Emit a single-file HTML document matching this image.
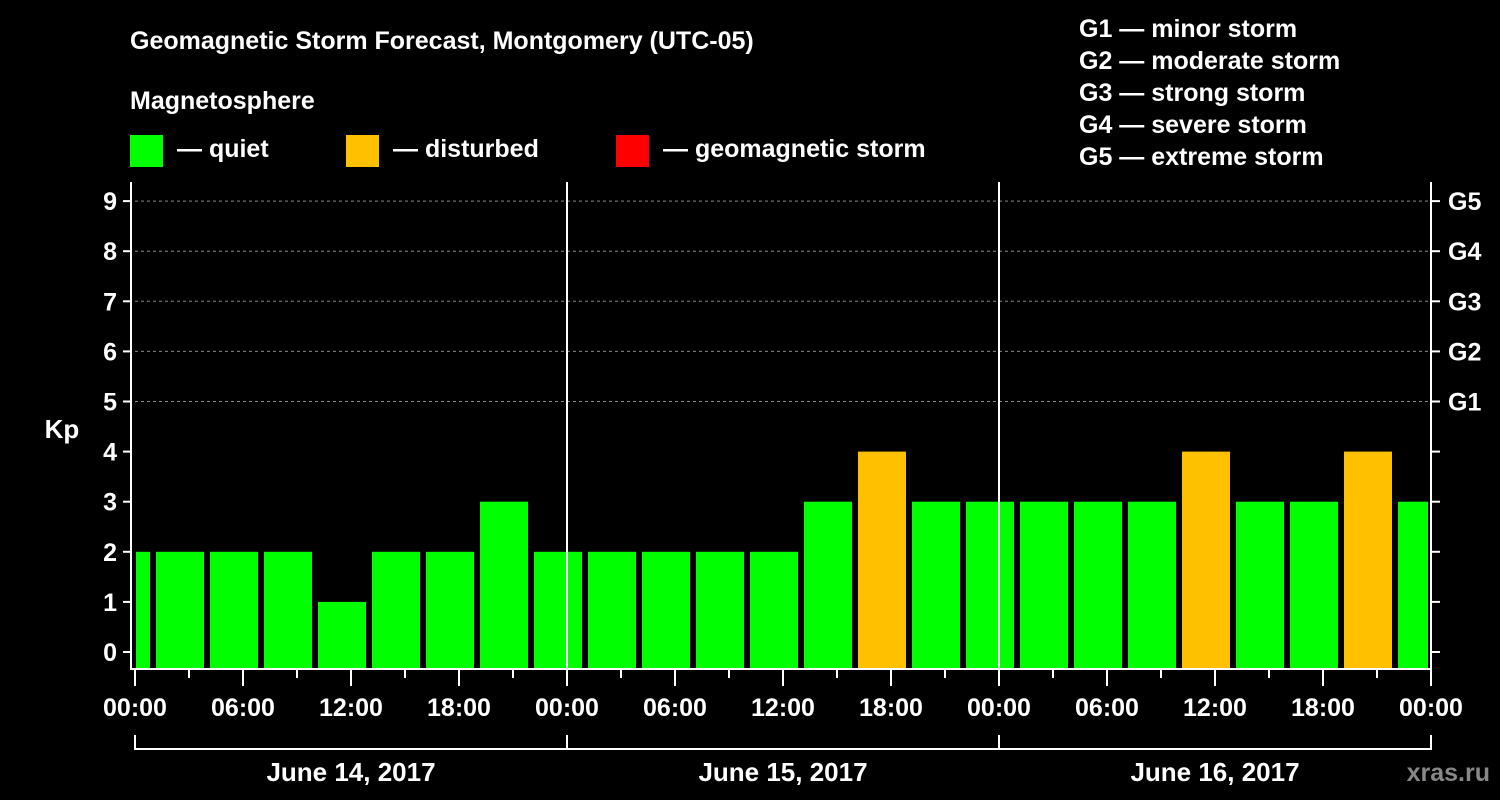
<!DOCTYPE html>
<html><head><meta charset="utf-8"><style>
body{margin:0;background:#000;width:1500px;height:800px;overflow:hidden}
svg{display:block;font-family:"Liberation Sans",Arial,sans-serif;font-weight:bold}
</style></head><body>
<svg id="c" width="1500" height="800">
<text x="130" y="49" fill="#fff" font-size="25">Geomagnetic Storm Forecast, Montgomery (UTC-05)</text>
<text x="130" y="109" fill="#fff" font-size="25">Magnetosphere</text>
<rect x="130" y="135" width="33" height="32" fill="#00ff00"/>
<text x="177" y="157" fill="#fff" font-size="25">— quiet</text>
<rect x="346" y="135" width="33" height="32" fill="#ffc000"/>
<text x="393" y="157" fill="#fff" font-size="25">— disturbed</text>
<rect x="616" y="135" width="33" height="32" fill="#ff0000"/>
<text x="663" y="157" fill="#fff" font-size="25">— geomagnetic storm</text>
<g fill="#fff" font-size="25">
<text x="1079" y="37">G1 — minor storm</text>
<text x="1079" y="69">G2 — moderate storm</text>
<text x="1079" y="101">G3 — strong storm</text>
<text x="1079" y="133">G4 — severe storm</text>
<text x="1079" y="165">G5 — extreme storm</text>
</g>
<text x="62" y="438" fill="#fff" font-size="26" text-anchor="middle">Kp</text>
<text x="1490" y="781" fill="#888" font-size="25" text-anchor="end">xras.ru</text>
<g id="plot"></g>
</svg>
<script>
const binStartHours=[-2,1,4,7,10,13,16,19,22,25,28,31,34,37,40,43,46,49,52,55,58,61,64,67,70];
const kpValues=[2,2,2,2,1,2,2,3,2,2,2,2,2,3,4,3,3,3,3,3,4,3,3,4,3];
const yTicks=[0,1,2,3,4,5,6,7,8,9];
const gLabels=["G1","G2","G3","G4","G5"];
const xTickLabels=["00:00","06:00","12:00","18:00","00:00","06:00","12:00","18:00","00:00","06:00","12:00","18:00","00:00"];
const dayLabels=["June 14, 2017","June 15, 2017","June 16, 2017"];
const NS="http://www.w3.org/2000/svg";
const g=document.getElementById('plot');
const X0=135,HPX=18,Y0=652,KPX=50.1,BOT=668,TOP=182,XMAX=1431;
const xs=h=>X0+h*HPX, ys=v=>Y0-v*KPX;
function el(t,a){const e=document.createElementNS(NS,t);for(const k in a)e.setAttribute(k,a[k]);g.appendChild(e);return e;}
// grid
for(let v=5;v<=9;v++){const e=el('line',{x1:X0,x2:XMAX,y1:ys(v),y2:ys(v),stroke:'#888','stroke-dasharray':'3,3','stroke-width':1});

}
// bars
binStartHours.forEach((h,i)=>{const v=kpValues[i];let x1=Math.max(xs(h)+3,X0+1),x2=Math.min(xs(h+3)-3,XMAX-3);
const r=el('rect',{x:x1,y:ys(v),width:x2-x1,height:BOT-ys(v),fill:v>=5?'#ff0000':v>=4?'#ffc000':'#00ff00'});

});
// day separators
[1,2].forEach(d=>{const e=el('line',{x1:xs(24*d),x2:xs(24*d),y1:TOP,y2:BOT,stroke:'#fff','stroke-width':2});

});
// axes frame
const f=el('path',{d:`M131 ${TOP}V${BOT+1}H${XMAX}V${TOP}`,fill:'none',stroke:'#fff','stroke-width':2});


// y ticks
yTicks.forEach(v=>{el('line',{x1:123,x2:131,y1:ys(v),y2:ys(v),stroke:'#fff','stroke-width':2});
const t=el('text',{x:117,y:ys(v)+9,fill:'#fff','font-size':25,'text-anchor':'end'});t.textContent=v;


if(v<5) el('line',{x1:XMAX,x2:XMAX+9,y1:ys(v),y2:ys(v),stroke:'#fff','stroke-width':2});});
gLabels.forEach((s,i)=>{const y=ys(5+i);el('line',{x1:XMAX,x2:XMAX+9,y1:y,y2:y,stroke:'#fff','stroke-width':2});
const t=el('text',{x:1448,y:y+9,fill:'#fff','font-size':25});t.textContent=s;

});
// x ticks
for(let h=0;h<=72;h+=3){el('line',{x1:xs(h),x2:xs(h),y1:BOT,y2:BOT+(h%6?10:18),stroke:'#fff','stroke-width':2});}
xTickLabels.forEach((s,i)=>{const t=el('text',{x:xs(i*6),y:716,fill:'#fff','font-size':25,'text-anchor':'middle'});t.textContent=s;

});
// day bracket
el('path',{d:`M${xs(0)} 735V749H${xs(72)}V735`,fill:'none',stroke:'#fff','stroke-width':2});
[1,2].forEach(d=>el('line',{x1:xs(24*d),x2:xs(24*d),y1:735,y2:749,stroke:'#fff','stroke-width':2}));
dayLabels.forEach((s,i)=>{const t=el('text',{x:xs(24*i+12),y:781,fill:'#fff','font-size':26,'text-anchor':'middle'});t.textContent=s;

});
</script>
</body></html>
